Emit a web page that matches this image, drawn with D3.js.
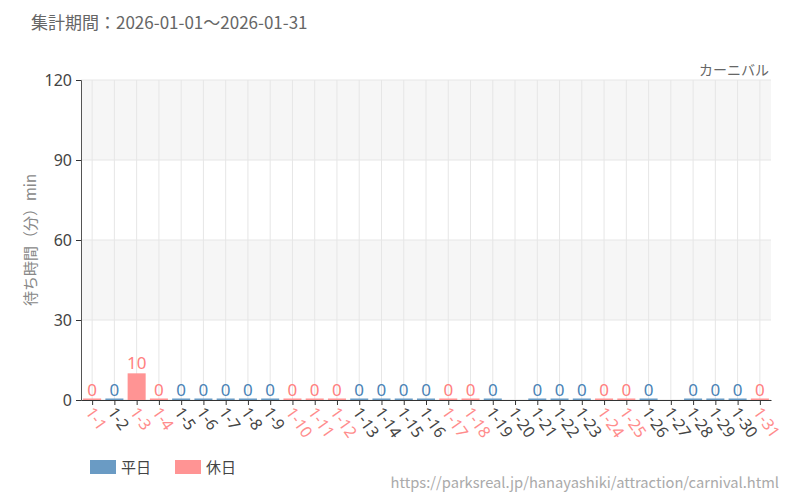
<!DOCTYPE html>
<html><head><meta charset="utf-8">
<script src="https://cdn.jsdelivr.net/npm/d3@7"></script>
<style>body{margin:0;background:#fff;} svg{display:block;font-family:"Noto Sans CJK JP","Noto Sans",sans-serif;}</style>
</head><body>
<svg id="c" width="800" height="500"></svg>
<script>
const days = ["1-1","1-2","1-3","1-4","1-5","1-6","1-7","1-8","1-9","1-10","1-11","1-12","1-13","1-14","1-15","1-16","1-17","1-18","1-19","1-20","1-21","1-22","1-23","1-24","1-25","1-26","1-27","1-28","1-29","1-30","1-31"];
const waitValues = [0,0,10,0,0,0,0,0,0,0,0,0,0,0,0,0,0,0,0,null,0,0,0,0,0,0,null,0,0,0,0];
const holidays = ["1-1","1-3","1-4","1-10","1-11","1-12","1-17","1-18","1-24","1-25","1-31"];
const yTicks = [0,30,60,90,120];
const legendLabels = ["平日","休日"];
const titleText = "集計期間：2026-01-01～2026-01-31";
const attractionName = "カーニバル";
const yTitle = "待ち時間（分）min";
const sourceUrl = "https://parksreal.jp/hanayashiki/attraction/carnival.html";

const colWeek = "#6a9bc4", colHol = "#ff9494";
const labWeek = "#4a83b6", labHol = "#ff8080";
const svg = d3.select("#c");
const m = {l:81, r:771, t:80, b:400};
const x = d3.scaleBand().domain(days).range([m.l, m.r]).paddingInner(0.19).paddingOuter(0.095);
const xc = d3.scalePoint().domain(days).range([m.l, m.r]).padding(0.5);
const y = d3.scaleLinear().domain([0,120]).range([m.b, m.t]);
const isHol = d => holidays.includes(d);

// bands
for (let i = 0; i < yTicks.length-1; i++) {
  if (i % 2 === 1) {
    svg.append("rect").attr("x", m.l).attr("width", m.r-m.l)
      .attr("y", y(yTicks[i+1])).attr("height", y(yTicks[i]) - y(yTicks[i+1])).attr("fill", "#f6f6f6");
  }
}
// horizontal grid
svg.append("g").selectAll("line").data(yTicks).join("line")
  .attr("x1", m.l).attr("x2", m.r).attr("y1", d=>y(d)).attr("y2", d=>y(d)).attr("stroke", "#e6e6e6");
// vertical grid
svg.append("g").selectAll("line").data(days).join("line")
  .attr("x1", d=>xc(d)).attr("x2", d=>xc(d)).attr("y1", m.t).attr("y2", m.b).attr("stroke", "#e6e6e6");

// bars
const data = days.map((d,i)=>({d, v: waitValues[i]})).filter(o => o.v !== null);
svg.append("g").selectAll("rect").data(data).join("rect")
  .attr("x", o=>x(o.d)).attr("width", x.bandwidth())
  .attr("y", o=> Math.min(y(o.v), m.b-1.5)).attr("height", o=> Math.max(m.b - y(o.v), 1.5))
  .attr("fill", o=> isHol(o.d) ? colHol : colWeek);
// value labels
svg.append("g").selectAll("text").data(data).join("text")
  .attr("x", o=>xc(o.d)).attr("y", o=> y(o.v) - 4)
  .attr("text-anchor", "middle").attr("font-size", 17).attr("font-family", "'Noto Sans', sans-serif")
  .attr("fill", o=> isHol(o.d) ? labHol : labWeek).text(o=>o.v);

// y axis
const ya = svg.append("g").attr("transform", `translate(${m.l},0)`)
  .call(d3.axisLeft(y).tickValues(yTicks).tickSize(5).tickPadding(4));
ya.select(".domain").attr("stroke", "#555");
ya.selectAll(".tick line").attr("stroke", "#333");
ya.selectAll("text").attr("font-size", 16).attr("fill", "#444").attr("font-family", "'Noto Sans', sans-serif").attr("dy", "0.35em");

// x axis
const xa = svg.append("g").attr("transform", `translate(0,${m.b})`)
  .call(d3.axisBottom(xc).tickSize(5).tickSizeOuter(0));
xa.select(".domain").attr("stroke", "#333");
xa.selectAll(".tick line").attr("stroke", "#333");
xa.selectAll("text")
  .attr("font-size", 16).attr("font-family", "'Noto Sans', sans-serif")
  .attr("fill", d => isHol(d) ? "#ff8c8c" : "#444")
  .attr("text-anchor", "start").attr("dy", "0.35em")
  .attr("transform", "translate(-3,9) rotate(55)").attr("x", 0).attr("y", 0);

// titles
svg.append("text").attr("x", 31).attr("y", 29).attr("font-size", 17).attr("fill", "#666").text(titleText);
svg.append("text").attr("x", 769).attr("y", 75).attr("text-anchor", "end").attr("font-size", 14).attr("fill", "#666").text(attractionName);
svg.append("text").attr("transform", `translate(36,${(m.t+m.b)/2}) rotate(-90)`)
  .attr("text-anchor", "middle").attr("font-size", 15).attr("fill", "#888").text(yTitle);

// legend
const lg = svg.append("g");
[[90, colWeek, legendLabels[0]], [175, colHol, legendLabels[1]]].forEach(([lx, c, t]) => {
  lg.append("rect").attr("x", lx).attr("y", 460).attr("width", 26).attr("height", 14).attr("fill", c);
  lg.append("text").attr("x", lx+31).attr("y", 473).attr("font-size", 15).attr("fill", "#444").text(t);
});
svg.append("text").attr("x", 779).attr("y", 488).attr("text-anchor", "end").attr("font-size", 14.7).attr("fill", "#aaa").text(sourceUrl);
</script>
</body></html>
